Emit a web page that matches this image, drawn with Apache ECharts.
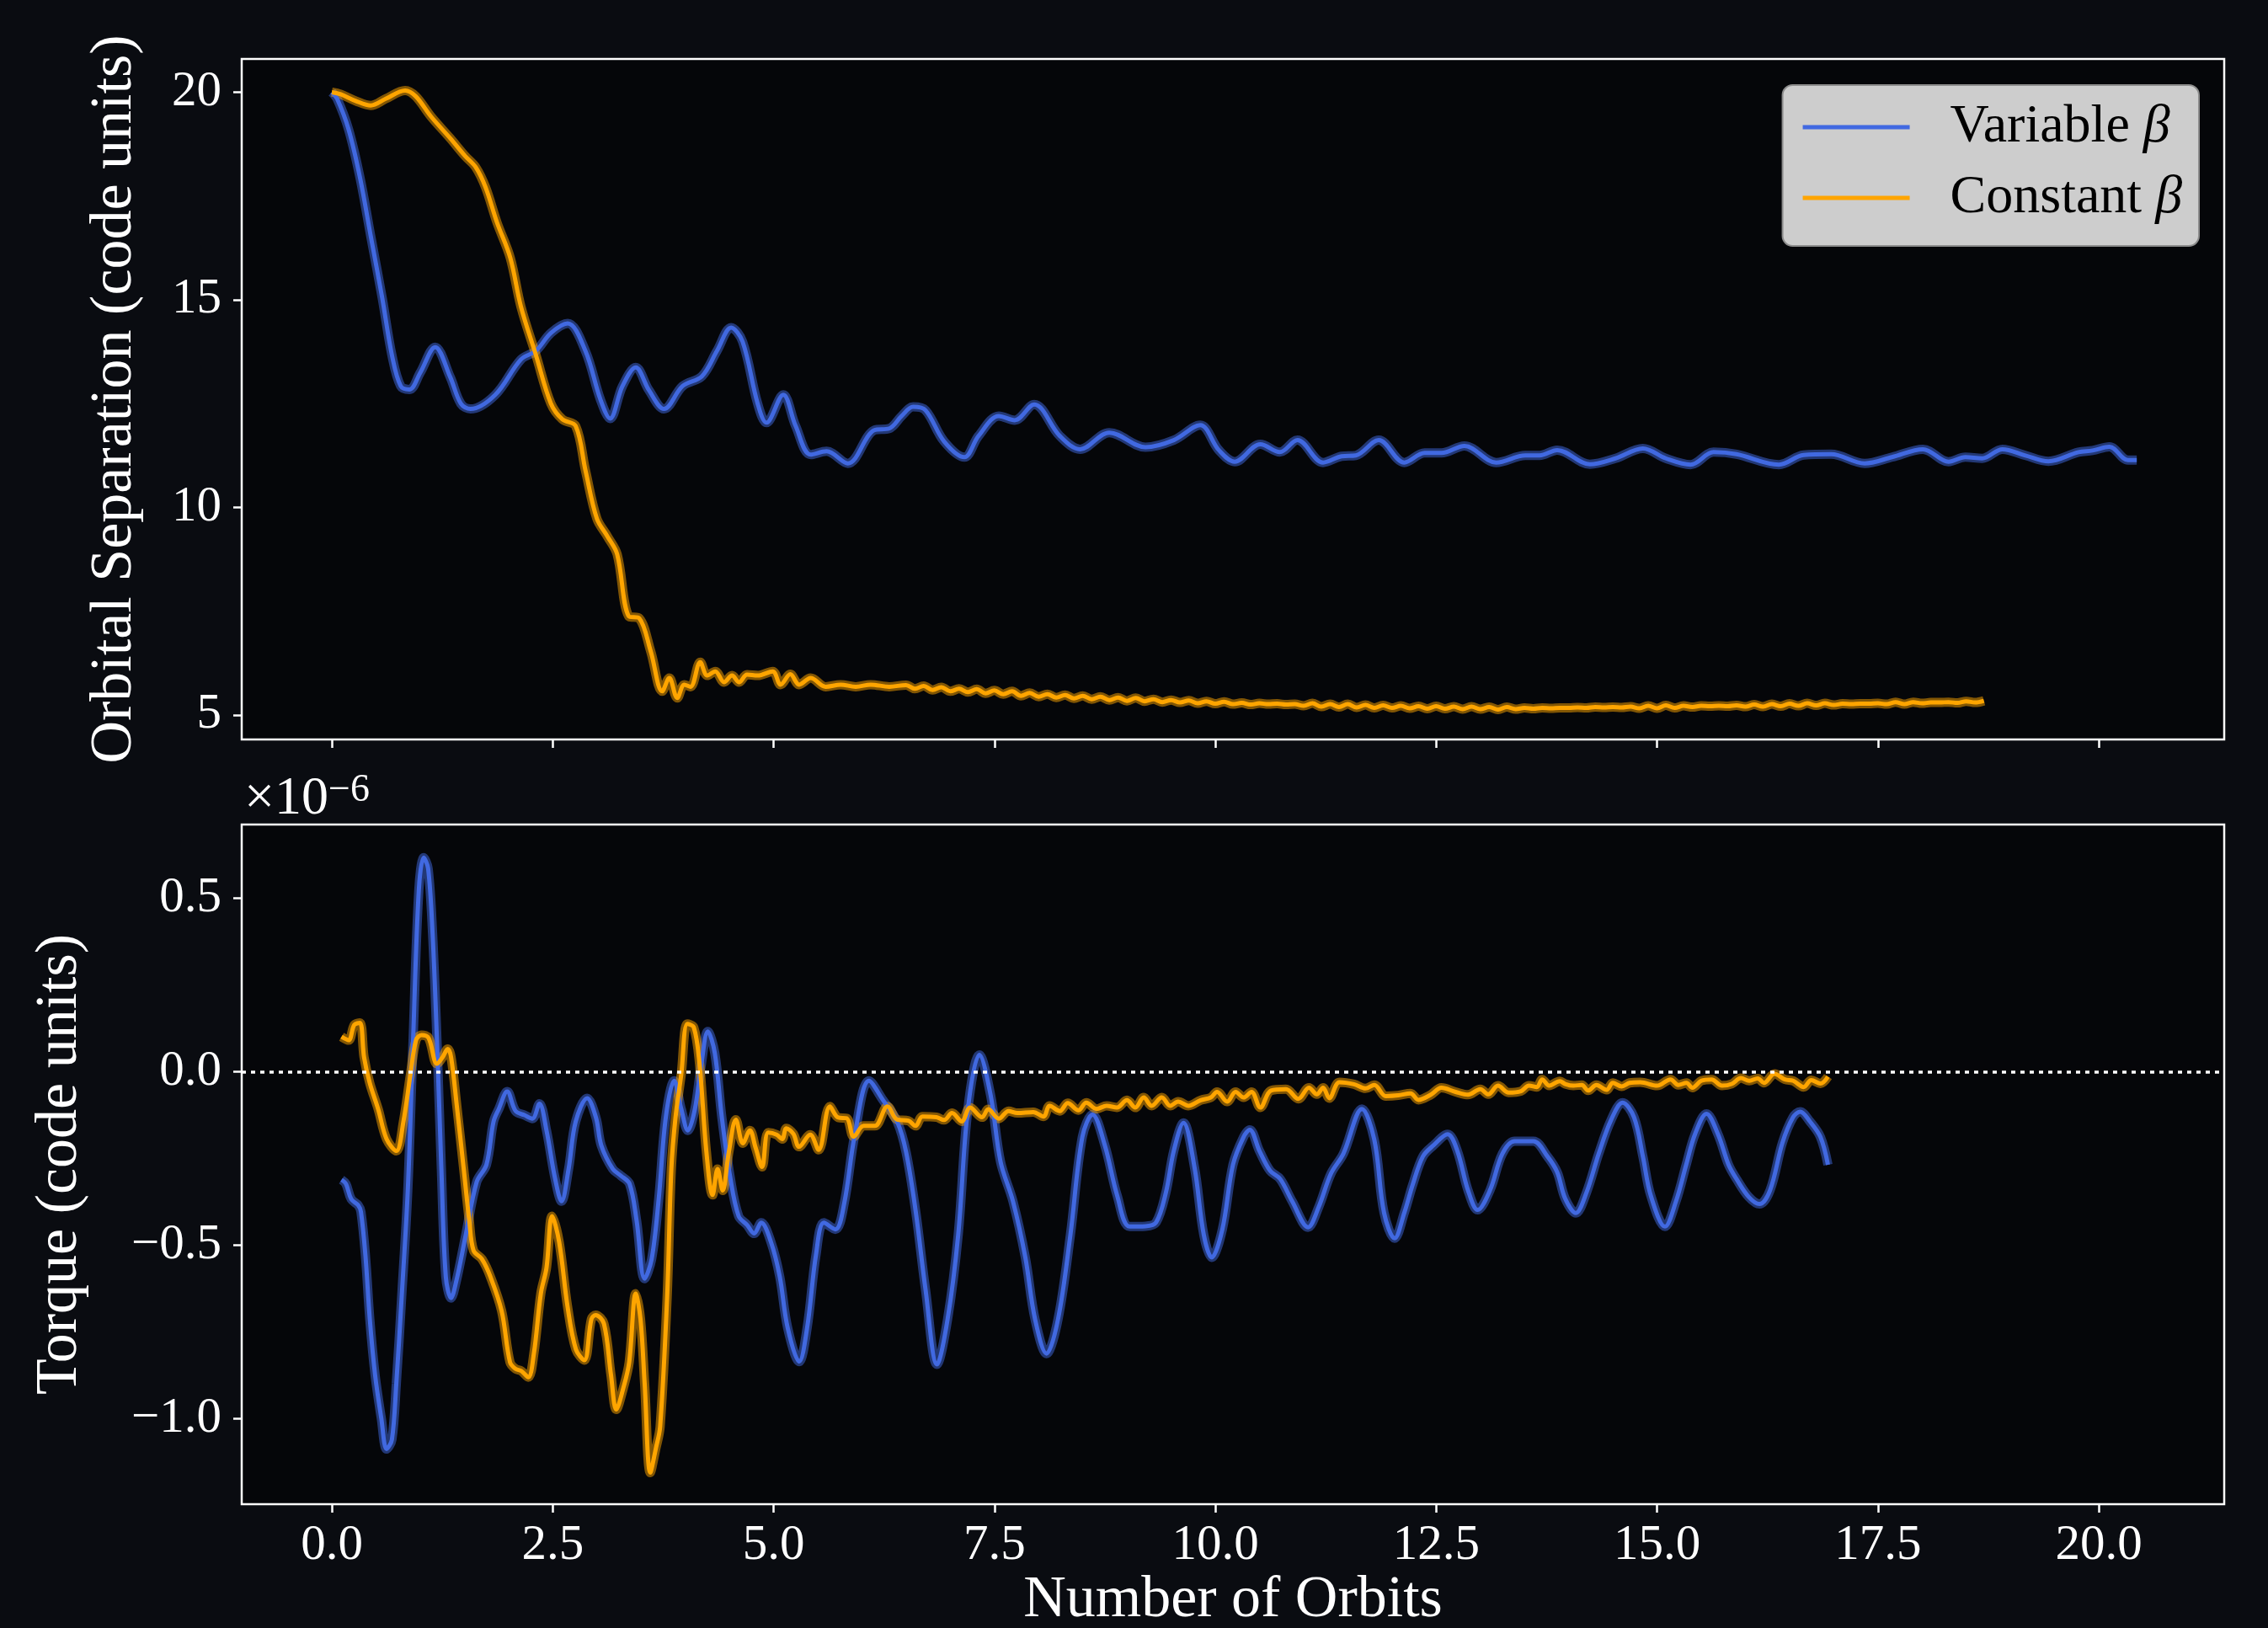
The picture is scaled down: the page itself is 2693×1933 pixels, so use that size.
<!DOCTYPE html>
<html>
<head>
<meta charset="utf-8">
<title>Orbital separation and torque</title>
<script src="https://cdn.jsdelivr.net/npm/echarts@6/dist/echarts.min.js"></script>
<style>
  html, body { margin: 0; padding: 0; background: #0a0c11; }
  #chart { width: 2693px; height: 1933px; }
</style>
</head>
<body>
<div id="chart"></div>
<script>
// tick positions
const orbitTicks = [0, 2.5, 5, 7.5, 10, 12.5, 15, 17.5, 20];
const sepTicks = [5, 10, 15, 20];
const torqueTicks = [-1.0, -0.5, 0.0, 0.5];

// orbital separation, variable beta  [orbits, code units]
const sepVariable = [
  [0, 20.0], [0.06, 19.84], [0.19, 19.1], [0.32, 17.93], [0.44, 16.54], [0.57, 15.05], [0.68, 13.67],
  [0.78, 12.92], [0.88, 12.84], [1.0, 13.24], [1.17, 13.86], [1.34, 13.14], [1.46, 12.5], [1.57, 12.37],
  [1.85, 12.71], [2.14, 13.56], [2.31, 13.77], [2.48, 14.2], [2.67, 14.43], [2.87, 13.77], [3.04, 12.6],
  [3.15, 12.14], [3.29, 12.92], [3.44, 13.37], [3.59, 12.82], [3.76, 12.37], [3.97, 12.92], [4.19, 13.16],
  [4.36, 13.77], [4.52, 14.33], [4.65, 13.99], [4.82, 12.5], [4.92, 12.04], [5.11, 12.71], [5.25, 11.96],
  [5.42, 11.27], [5.6, 11.35], [5.84, 11.06], [6.14, 11.86], [6.31, 11.9], [6.45, 12.2], [6.58, 12.42],
  [6.72, 12.34], [6.93, 11.59], [7.16, 11.21], [7.32, 11.72], [7.55, 12.2], [7.73, 12.1], [7.95, 12.48],
  [8.24, 11.72], [8.47, 11.4], [8.8, 11.8], [9.21, 11.45], [9.53, 11.62], [9.83, 11.98], [10.04, 11.38],
  [10.22, 11.1], [10.51, 11.52], [10.73, 11.33], [10.93, 11.62], [11.22, 11.08], [11.43, 11.23],
  [11.59, 11.25], [11.85, 11.62], [12.14, 11.08], [12.37, 11.31], [12.56, 11.31], [12.82, 11.48],
  [13.18, 11.08], [13.51, 11.25], [13.67, 11.25], [13.87, 11.38], [14.24, 11.04], [14.53, 11.18],
  [14.84, 11.42], [15.1, 11.18], [15.38, 11.03], [15.64, 11.33], [15.9, 11.28], [16.38, 11.03],
  [16.66, 11.26], [16.97, 11.28], [17.35, 11.06], [17.66, 11.21], [18.01, 11.4], [18.3, 11.1],
  [18.49, 11.21], [18.68, 11.18], [18.91, 11.4], [19.17, 11.25], [19.43, 11.11], [19.77, 11.33],
  [19.93, 11.37], [20.12, 11.46], [20.33, 11.14], [20.43, 11.14]
];

// orbital separation, constant beta
const sepConstant = [
  [0, 20.0], [0.1, 19.95], [0.27, 19.79], [0.44, 19.68], [0.61, 19.84], [0.83, 20.04], [0.95, 19.9],
  [1.12, 19.42], [1.34, 18.89], [1.51, 18.46], [1.63, 18.19], [1.74, 17.71], [1.87, 16.86], [2.02, 16.01],
  [2.14, 14.84], [2.31, 13.67], [2.48, 12.5], [2.61, 12.12], [2.76, 11.96], [2.87, 10.9], [3.0, 9.73],
  [3.12, 9.3], [3.23, 8.87], [3.36, 7.38], [3.48, 7.33], [3.61, 6.53], [3.74, 5.57], [3.82, 5.89],
  [3.91, 5.41], [3.99, 5.73], [4.06, 5.68], [4.17, 6.27], [4.25, 5.95], [4.34, 6.05], [4.44, 5.79],
  [4.53, 5.95], [4.61, 5.79], [4.7, 5.97], [4.82, 5.95], [4.99, 6.05], [5.08, 5.73], [5.19, 5.98],
  [5.29, 5.73], [5.42, 5.89], [5.59, 5.68], [5.76, 5.73], [5.93, 5.68], [6.1, 5.73], [6.31, 5.68],
  [6.5, 5.72], [6.6, 5.63], [6.7, 5.7], [6.8, 5.6], [6.9, 5.67], [7.0, 5.57], [7.1, 5.63], [7.2, 5.55],
  [7.3, 5.62], [7.4, 5.52], [7.5, 5.59], [7.6, 5.5], [7.7, 5.57], [7.8, 5.46], [7.9, 5.53], [8.0, 5.44],
  [8.1, 5.5], [8.2, 5.42], [8.3, 5.48], [8.4, 5.4], [8.5, 5.46], [8.6, 5.38], [8.7, 5.44], [8.8, 5.36],
  [8.9, 5.42], [9.0, 5.34], [9.1, 5.41], [9.2, 5.33], [9.3, 5.38], [9.4, 5.31], [9.5, 5.36], [9.6, 5.3],
  [9.7, 5.35], [9.8, 5.28], [9.9, 5.33], [10.0, 5.27], [10.1, 5.32], [10.2, 5.26], [10.3, 5.29],
  [10.4, 5.25], [10.5, 5.28], [10.6, 5.26], [10.7, 5.27], [10.8, 5.25], [10.9, 5.26], [11.0, 5.22],
  [11.1, 5.28], [11.2, 5.2], [11.3, 5.26], [11.4, 5.19], [11.5, 5.26], [11.6, 5.18], [11.7, 5.24],
  [11.8, 5.17], [11.9, 5.23], [12.0, 5.17], [12.1, 5.22], [12.2, 5.16], [12.3, 5.21], [12.4, 5.15],
  [12.5, 5.21], [12.6, 5.15], [12.7, 5.2], [12.8, 5.14], [12.9, 5.2], [13.0, 5.14], [13.1, 5.19],
  [13.2, 5.13], [13.3, 5.19], [13.4, 5.14], [13.5, 5.17], [13.6, 5.15], [13.7, 5.17], [13.8, 5.16],
  [13.9, 5.17], [14.0, 5.17], [14.1, 5.18], [14.2, 5.17], [14.3, 5.19], [14.4, 5.18], [14.5, 5.19],
  [14.6, 5.18], [14.7, 5.2], [14.8, 5.16], [14.9, 5.22], [15.0, 5.16], [15.1, 5.23], [15.2, 5.17],
  [15.3, 5.22], [15.4, 5.19], [15.5, 5.22], [15.6, 5.21], [15.7, 5.22], [15.8, 5.21], [15.9, 5.23],
  [16.0, 5.2], [16.1, 5.25], [16.2, 5.2], [16.3, 5.26], [16.4, 5.21], [16.5, 5.27], [16.6, 5.22],
  [16.7, 5.28], [16.8, 5.23], [16.9, 5.28], [17.0, 5.24], [17.1, 5.27], [17.2, 5.26], [17.3, 5.27],
  [17.4, 5.27], [17.5, 5.28], [17.6, 5.26], [17.7, 5.31], [17.8, 5.26], [17.9, 5.31], [18.0, 5.28],
  [18.1, 5.3], [18.2, 5.3], [18.3, 5.31], [18.4, 5.29], [18.5, 5.33], [18.6, 5.3], [18.7, 5.34]
];

// torque, variable beta  [orbits, 1e-6 code units]
const torqueVariable = [
  [0.11, -0.311], [0.16, -0.323], [0.22, -0.367], [0.3, -0.385], [0.33, -0.404], [0.38, -0.528],
  [0.43, -0.713], [0.49, -0.874], [0.56, -0.998], [0.62, -1.087], [0.68, -1.06], [0.73, -0.899],
  [0.79, -0.652], [0.86, -0.342], [0.92, 0.091], [0.985, 0.524], [1.04, 0.617], [1.09, 0.586],
  [1.14, 0.401], [1.19, 0.091], [1.24, -0.28], [1.29, -0.59], [1.35, -0.652], [1.41, -0.602],
  [1.51, -0.478], [1.64, -0.317], [1.75, -0.268], [1.83, -0.144], [1.89, -0.107], [1.985, -0.057],
  [2.08, -0.113], [2.18, -0.125], [2.27, -0.135], [2.35, -0.092], [2.43, -0.169], [2.525, -0.305],
  [2.6, -0.373], [2.68, -0.28], [2.76, -0.144], [2.89, -0.076], [2.99, -0.132], [3.05, -0.212],
  [3.18, -0.28], [3.27, -0.299], [3.37, -0.323], [3.45, -0.429], [3.54, -0.596], [3.62, -0.54],
  [3.7, -0.367], [3.78, -0.132], [3.875, -0.026], [3.955, -0.107], [4.03, -0.169], [4.11, -0.107],
  [4.18, 0.017], [4.256, 0.116], [4.335, 0.054], [4.415, -0.132], [4.51, -0.305], [4.605, -0.416],
  [4.7, -0.441], [4.78, -0.466], [4.86, -0.435], [4.97, -0.49], [5.07, -0.59], [5.16, -0.738],
  [5.29, -0.835], [5.38, -0.738], [5.48, -0.528], [5.57, -0.435], [5.7, -0.454], [5.8, -0.379],
  [5.92, -0.181], [6.08, -0.026], [6.24, -0.082], [6.4, -0.144], [6.5, -0.231], [6.61, -0.404],
  [6.72, -0.627], [6.85, -0.843], [6.97, -0.713], [7.09, -0.47], [7.2, -0.107], [7.33, 0.049],
  [7.456, -0.066], [7.57, -0.26], [7.71, -0.373], [7.85, -0.535], [7.96, -0.713], [8.09, -0.812],
  [8.22, -0.713], [8.36, -0.47], [8.495, -0.188], [8.61, -0.123], [8.75, -0.212], [8.89, -0.357],
  [9.03, -0.446], [9.21, -0.445], [9.33, -0.434], [9.44, -0.349], [9.53, -0.228], [9.64, -0.147],
  [9.765, -0.276], [9.87, -0.47], [9.96, -0.535], [10.08, -0.454], [10.2, -0.268], [10.32, -0.188],
  [10.39, -0.167], [10.5, -0.228], [10.62, -0.285], [10.735, -0.309], [10.87, -0.373], [11.05, -0.448],
  [11.17, -0.39], [11.31, -0.293], [11.45, -0.236], [11.66, -0.107], [11.8, -0.196], [11.91, -0.406],
  [12.03, -0.48], [12.14, -0.406], [12.235, -0.325], [12.35, -0.244], [12.47, -0.212], [12.63, -0.18],
  [12.74, -0.228], [12.86, -0.341], [12.97, -0.398], [13.11, -0.341], [13.25, -0.236], [13.39, -0.2],
  [13.6, -0.2], [13.76, -0.244], [13.87, -0.289], [13.96, -0.365], [14.08, -0.407], [14.2, -0.349],
  [14.34, -0.236], [14.48, -0.139], [14.61, -0.089], [14.74, -0.131], [14.84, -0.244], [14.93, -0.357],
  [15.09, -0.446], [15.215, -0.373], [15.33, -0.268], [15.43, -0.18], [15.56, -0.121], [15.69, -0.18],
  [15.81, -0.268], [15.9, -0.309], [16.04, -0.361], [16.16, -0.381], [16.28, -0.341], [16.42, -0.204],
  [16.54, -0.131], [16.62, -0.115], [16.73, -0.143], [16.85, -0.188], [16.935, -0.268]
];

// torque, constant beta
const torqueConstant = [
  [0.11, 0.101], [0.19, 0.091], [0.254, 0.135], [0.318, 0.141], [0.365, 0.042], [0.43, -0.033],
  [0.524, -0.107], [0.62, -0.194], [0.73, -0.228], [0.81, -0.144], [0.89, -0.008], [0.953, 0.091],
  [1.016, 0.106], [1.096, 0.097], [1.19, 0.023], [1.254, 0.042], [1.312, 0.066], [1.35, 0.042],
  [1.413, -0.094], [1.493, -0.28], [1.556, -0.429], [1.604, -0.515], [1.7, -0.54], [1.794, -0.59],
  [1.922, -0.689], [2.017, -0.837], [2.08, -0.856], [2.144, -0.862], [2.223, -0.88], [2.287, -0.812],
  [2.366, -0.639], [2.43, -0.565], [2.493, -0.416], [2.573, -0.49], [2.668, -0.676], [2.763, -0.8],
  [2.858, -0.831], [2.938, -0.713], [2.986, -0.701], [3.08, -0.726], [3.16, -0.874], [3.22, -0.973],
  [3.3, -0.911], [3.366, -0.837], [3.44, -0.639], [3.494, -0.713], [3.541, -0.899], [3.605, -1.155],
  [3.668, -1.085], [3.716, -1.023], [3.795, -0.652], [3.843, -0.28], [3.89, -0.132], [3.955, -0.008],
  [4.024, 0.138], [4.097, 0.128], [4.16, 0.029], [4.24, -0.231], [4.31, -0.355], [4.367, -0.28],
  [4.424, -0.342], [4.494, -0.231], [4.574, -0.138], [4.653, -0.206], [4.732, -0.169], [4.796, -0.218],
  [4.87, -0.274], [4.94, -0.175], [5.034, -0.181], [5.098, -0.194], [5.145, -0.163], [5.225, -0.179],
  [5.288, -0.216], [5.415, -0.181], [5.51, -0.225], [5.638, -0.1], [5.733, -0.132], [5.828, -0.134],
  [5.907, -0.187], [6.02, -0.156], [6.146, -0.156], [6.289, -0.1], [6.4, -0.138], [6.527, -0.141],
  [6.606, -0.156], [6.686, -0.129], [6.844, -0.131], [6.93, -0.139], [7.02, -0.119], [7.13, -0.143],
  [7.225, -0.103], [7.36, -0.131], [7.43, -0.108], [7.55, -0.135], [7.66, -0.113], [7.76, -0.119],
  [7.94, -0.116], [8.056, -0.129], [8.125, -0.098], [8.24, -0.113], [8.33, -0.09], [8.45, -0.111],
  [8.54, -0.089], [8.656, -0.107], [8.77, -0.098], [8.887, -0.103], [9.0, -0.082], [9.095, -0.103],
  [9.19, -0.074], [9.28, -0.098], [9.395, -0.074], [9.49, -0.098], [9.58, -0.086], [9.695, -0.098],
  [9.834, -0.082], [9.95, -0.074], [10.02, -0.058], [10.135, -0.086], [10.23, -0.058], [10.32, -0.074],
  [10.41, -0.058], [10.51, -0.103], [10.63, -0.054], [10.8, -0.05], [10.94, -0.078], [11.06, -0.046],
  [11.15, -0.065], [11.22, -0.046], [11.29, -0.076], [11.405, -0.03], [11.57, -0.036], [11.7, -0.048],
  [11.8, -0.038], [11.93, -0.07], [12.07, -0.068], [12.21, -0.062], [12.3, -0.081], [12.44, -0.066],
  [12.56, -0.046], [12.72, -0.058], [12.86, -0.066], [13.0, -0.05], [13.09, -0.065], [13.2, -0.04],
  [13.32, -0.06], [13.46, -0.056], [13.55, -0.04], [13.64, -0.044], [13.7, -0.022], [13.78, -0.04],
  [13.9, -0.027], [13.96, -0.035], [14.054, -0.04], [14.148, -0.038], [14.22, -0.054], [14.314, -0.038],
  [14.43, -0.052], [14.5, -0.032], [14.6, -0.042], [14.69, -0.032], [14.81, -0.03], [15.0, -0.04],
  [15.153, -0.022], [15.24, -0.038], [15.333, -0.032], [15.4, -0.046], [15.5, -0.026], [15.617, -0.022],
  [15.736, -0.04], [15.845, -0.035], [15.95, -0.018], [16.044, -0.026], [16.14, -0.019], [16.21, -0.032],
  [16.33, -0.006], [16.447, -0.022], [16.542, -0.026], [16.66, -0.044], [16.746, -0.024], [16.85, -0.034],
  [16.935, -0.014]
];

const FONT = '"Liberation Serif", "DejaVu Serif", serif';
const BLUE = '#4169e1';
const ORANGE = '#ffa500';

const chart = echarts.init(document.getElementById('chart'), null, { renderer: 'canvas' });

// one axis helper for both panels, ticks placed by customValues
function valueAxis(gridIndex, min, max, ticks, fmt, showLabels) {
  return {
    type: 'value',
    gridIndex: gridIndex,
    min: min,
    max: max,
    axisLine: { show: false, onZero: false },
    splitLine: { show: false },
    axisTick: {
      show: true,
      customValues: ticks,
      length: 10,
      lineStyle: { color: '#ffffff', width: 2.5 },
    },
    axisLabel: {
      show: showLabels,
      customValues: ticks,
      formatter: fmt,
      color: '#ffffff',
      fontFamily: FONT,
      fontSize: 59,
    },
  };
}

// halo underlay + main line, like the glowing strokes in the picture
function lineSeries(name, data, color, glow, idx) {
  return [
    {
      name: name + ' halo',
      type: 'line',
      xAxisIndex: idx,
      yAxisIndex: idx,
      data: data,
      smooth: 0.35,
      showSymbol: false,
      silent: true,
      lineStyle: { color: glow, width: 11 },
      z: 2,
    },
    {
      name: name,
      type: 'line',
      xAxisIndex: idx,
      yAxisIndex: idx,
      data: data,
      smooth: 0.35,
      showSymbol: false,
      itemStyle: { color: color },
      lineStyle: { color: color, width: 5 },
      z: 3,
    },
  ];
}

const fmtOrbit = (v) => v.toFixed(1);
const fmtSep = (v) => String(Math.round(v));
const fmtTorque = (v) => (v < 0 ? '\u2212' + Math.abs(v).toFixed(1) : v.toFixed(1));

const xTop = valueAxis(0, -1.02, 21.42, orbitTicks, fmtOrbit, false);
const xBottom = valueAxis(1, -1.02, 21.42, orbitTicks, fmtOrbit, true);
xBottom.axisLabel.margin = 20;
xBottom.name = 'Number of Orbits';
xBottom.nameLocation = 'middle';
xBottom.nameGap = 80;
xBottom.nameTextStyle = { color: '#ffffff', fontFamily: FONT, fontSize: 70 };

const yTop = valueAxis(0, 4.41, 20.8, sepTicks, fmtSep, true);
yTop.axisLabel.margin = 24;
yTop.name = 'Orbital Separation (code units)';
yTop.nameLocation = 'middle';
yTop.nameGap = 115;
yTop.nameTextStyle = { color: '#ffffff', fontFamily: FONT, fontSize: 70 };

const yBottom = valueAxis(1, -1.246, 0.7125, torqueTicks, fmtTorque, true);
yBottom.axisLabel.margin = 24;
yBottom.name = 'Torque (code units)';
yBottom.nameLocation = 'middle';
yBottom.nameGap = 180;
yBottom.nameTextStyle = { color: '#ffffff', fontFamily: FONT, fontSize: 70 };

const torqueSeries = lineSeries('Variable β', torqueVariable, BLUE, 'rgba(65,105,225,0.5)', 1);
torqueSeries[1].markLine = {
  silent: true,
  symbol: 'none',
  label: { show: false },
  lineStyle: { color: '#ffffff', width: 3.5, type: [5, 6] },
  data: [{ yAxis: 0 }],
};

chart.setOption({
  backgroundColor: '#0a0c11',
  animation: false,
  grid: [
    {
      left: 287, top: 70, width: 2354, height: 808,
      show: true, backgroundColor: '#050609', borderColor: '#ffffff', borderWidth: 2.5,
      outerBoundsMode: 'none',
    },
    {
      left: 287, top: 979, width: 2354, height: 807,
      show: true, backgroundColor: '#050609', borderColor: '#ffffff', borderWidth: 2.5,
      outerBoundsMode: 'none',
    },
  ],
  xAxis: [xTop, xBottom],
  yAxis: [yTop, yBottom],
  legend: {
    data: ['Variable β', 'Constant β'],
    orient: 'vertical',
    right: 82,
    top: 101,
    icon: 'rect',
    itemWidth: 127,
    itemHeight: 5,
    itemGap: 14,
    padding: [15, 20, 22, 24],
    selectedMode: false,
    backgroundColor: '#cdcdcd',
    borderColor: '#8c8c8c',
    borderWidth: 2,
    borderRadius: 12,
    formatter: (name) => '{t|' + name.replace(' β', ' ') + '}{g|β}',
    textStyle: {
      color: '#000000',
      fontFamily: FONT,
      fontSize: 64,
      lineHeight: 70,
      padding: [0, 0, 0, 43],
      rich: {
        t: { color: '#000000', fontFamily: FONT, fontSize: 64, lineHeight: 70 },
        g: { color: '#000000', fontFamily: FONT, fontSize: 64, lineHeight: 70, fontStyle: 'italic' },
      },
    },
  },
  graphic: [
    {
      type: 'text',
      left: 290,
      top: 916,
      style: {
        text: '{a|×10}{b|\u22126}',
        rich: {
          a: { fill: '#ffffff', fontFamily: FONT, fontSize: 64, lineHeight: 66 },
          b: { fill: '#ffffff', fontFamily: FONT, fontSize: 46, lineHeight: 66, verticalAlign: 'top' },
        },
      },
    },
  ],
  series: [
    ...lineSeries('Variable β', sepVariable, BLUE, 'rgba(65,105,225,0.5)', 0),
    ...lineSeries('Constant β', sepConstant, ORANGE, 'rgba(255,165,0,0.5)', 0),
    ...torqueSeries,
    ...lineSeries('Constant β', torqueConstant, ORANGE, 'rgba(255,165,0,0.5)', 1),
  ],
});
</script>
</body>
</html>
